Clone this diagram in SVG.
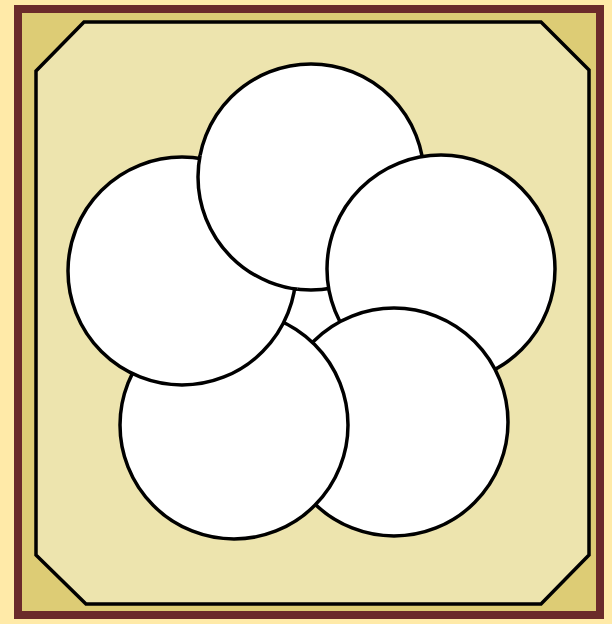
<svg xmlns="http://www.w3.org/2000/svg" width="612" height="624" viewBox="0 0 612 624">
<style>
.c{fill:#ffffff;stroke:#000000;stroke-width:3.5}
</style>
<defs>
<clipPath id="clipL"><circle cx="182" cy="271" r="117"/></clipPath>
</defs>
<rect x="0" y="0" width="612" height="624" fill="#FFEAA8"/>
<rect id="frame" x="18" y="9" width="582" height="606" fill="#DDCC75" stroke="#6B2A2A" stroke-width="8"/>
<polygon id="octagon" points="84,22 541,22 589,70 589,555 541,604 86,604 36,555 36,71" fill="#EDE4AE" stroke="#000000" stroke-width="3.5" stroke-linejoin="miter"/>
<circle cx="312" cy="312" r="50" fill="#ffffff"/>
<g id="top"><circle class="c" cx="311" cy="177" r="113"/></g>
<g id="right"><circle class="c" cx="441" cy="269" r="114"/></g>
<g id="bottomright"><circle class="c" cx="394" cy="422" r="114"/></g>
<g id="bottomleft"><circle class="c" cx="234" cy="425" r="114"/></g>
<g id="left"><circle class="c" cx="182" cy="271" r="114"/></g>
<g id="top-over-left" clip-path="url(#clipL)"><circle class="c" cx="311" cy="177" r="113"/></g>
</svg>
